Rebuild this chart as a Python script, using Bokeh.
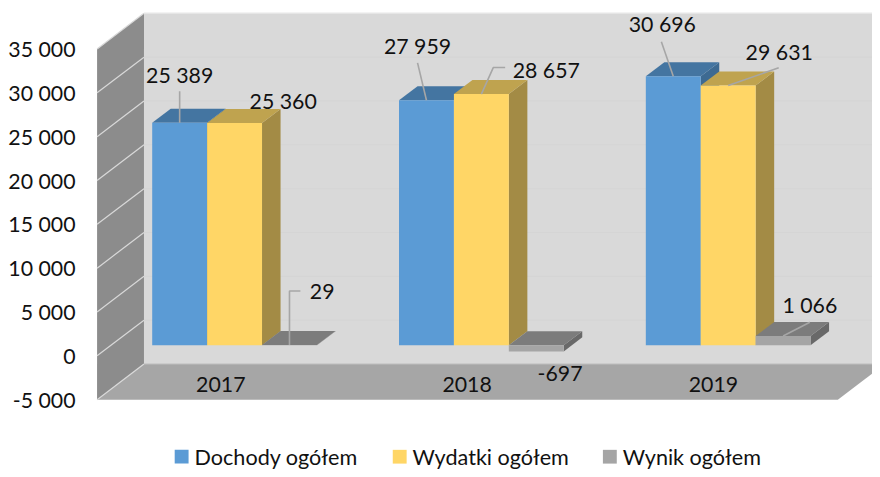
from bokeh.plotting import figure
from bokeh.models import FixedTicker
from bokeh.core.properties import value
from bokeh.embed import file_html
from bokeh.resources import INLINE

categories = ["2017", "2018", "2019"]
dochody = [25389, 27959, 30696]
wydatki = [25360, 28657, 29631]
wynik = [29, -697, 1066]
value_labels = [["25 389", "27 959", "30 696"],
                ["25 360", "28 657", "29 631"],
                ["29", "-697", "1 066"]]
series_names = ["Dochody ogółem", "Wydatki ogółem", "Wynik ogółem"]
tick_values = [-5000, 0, 5000, 10000, 15000, 20000, 25000, 30000, 35000]
tick_labels = ["-5 000", "0", "5 000", "10 000", "15 000", "20 000", "25 000", "30 000", "35 000"]

# The page has an 8px margin, so the figure covers the window minus that margin.
W, H = 872, 469
REF_W, REF_H = 880, 477
REF_L = 85
FRAME_L = 84
ZERO_PX = 361.4
PX_PER_5000 = 44.58
FONT = "Lato"
FS = "21.3px"
LEG_FS = "21.6px"


def u(px):
    return px * 5000 / PX_PER_5000


def Y(py):
    return u(ZERO_PX - py)


p = figure(width=W, height=H, x_range=(REF_L, REF_W), y_range=(Y(REF_H), Y(0)),
           output_backend="svg", toolbar_location=None,
           min_border_left=FRAME_L, min_border_right=0, min_border_top=0, min_border_bottom=0,
           x_axis_location=None, outline_line_color=None, background_fill_color="white")
p.xgrid.visible = False
p.ygrid.visible = False

ax = p.yaxis[0]
ax.ticker = FixedTicker(ticks=tick_values)
ax.major_label_overrides = {v: l for v, l in zip(tick_values, tick_labels)}
ax.axis_line_color = None
ax.major_tick_line_color = None
ax.minor_tick_line_color = None
ax.major_tick_out = 0
ax.major_tick_in = 0
ax.major_label_standoff = 9
ax.major_label_text_font = FONT
ax.major_label_text_font_size = FS
ax.major_label_text_color = "#111111"

# chamber
WALL_X0, WALL_DX, WALL_DY = 97.7, 47.3, 36.3
FLOOR_FRONT_R = 845
vmin, vmax = tick_values[0], tick_values[-1]
xb = WALL_X0 + WALL_DX
p.patch([xb, REF_W + 20, REF_W + 20, xb],
        [vmin + u(WALL_DY), vmin + u(WALL_DY), vmax + u(WALL_DY), vmax + u(WALL_DY)],
        fill_color="#d9d9d9", line_color=None)
p.patch([WALL_X0, xb, xb, WALL_X0],
        [vmin, vmin + u(WALL_DY), vmax + u(WALL_DY), vmax],
        fill_color="#8c8c8c", line_color=None)
p.patch([xb, FLOOR_FRONT_R + WALL_DX, FLOOR_FRONT_R, WALL_X0],
        [vmin + u(WALL_DY), vmin + u(WALL_DY), vmin, vmin],
        fill_color="#a6a6a6", line_color=None)
for t in tick_values:
    p.line([WALL_X0, xb], [t, t + u(WALL_DY)], line_color="#d9d9d9", line_width=1.2)
    if t > vmin:
        p.line([xb, REF_W], [t + u(WALL_DY)] * 2, line_color="#d5d5d5", line_width=1)
p.line([xb, REF_W], [vmin + u(WALL_DY)] * 2, line_color="#bdbdbd", line_width=1.2)
p.line([xb, REF_W], [vmax + u(WALL_DY)] * 2, line_color="#e6e6e6", line_width=1.2)

# bars
BAR_X0, PITCH, BAR_W = 153.3, 249.0, 55.4
BAR_DX, BAR_DY, PLANE_DY = 18.7, 14.3, 10.7
colors = [("#5b9bd5", "#4475a1", "#3d6a92"),
          ("#ffd666", "#bfa34f", "#a38b45"),
          ("#a5a5a5", "#7c7c7c", "#696969")]
series = [dochody, wydatki, wynik]

for i in range(len(categories)):
    for s, vals in enumerate(series):
        x0 = BAR_X0 + PITCH * i + BAR_W * s
        x1 = x0 + BAR_W
        v = vals[i]
        top = max(v, 0) + u(PLANE_DY)
        bot = min(v, 0) + u(PLANE_DY)
        front, topc, side = colors[s]
        p.patch([x1, x1 + BAR_DX, x1 + BAR_DX, x1],
                [bot, bot + u(BAR_DY), top + u(BAR_DY), top], fill_color=side, line_color=None)
        p.patch([x0, x1, x1 + BAR_DX, x0 + BAR_DX],
                [top, top, top + u(BAR_DY), top + u(BAR_DY)], fill_color=topc, line_color=None)
        p.patch([x0, x1, x1, x0], [bot, bot, top, top], fill_color=front, line_color=None)

# leader lines: pixel offsets from the anchor (bar front centre, bar value)
leaders = {(0, 0): [(0, -32)],
           (2, 0): [(0, -55), (11, -55)],
           (0, 1): [(-9, -38)],
           (1, 1): [(12, -27), (24, -27)],
           (0, 2): [(-12, -35)],
           (1, 2): [(51, -18)],
           (2, 2): [(27, -14)]}
# label centre: pixel offsets from the same anchor
label_off = {(0, 0): (0, -49), (1, 0): (49, -22), (2, 0): (33, -54),
             (0, 1): (-9, -55), (1, 1): (65.5, -25), (2, 1): (24, 29),
             (0, 2): (-11, -53), (1, 2): (51.5, -34), (2, 2): (27, -32)}

for s, vals in enumerate(series):
    for i in range(len(categories)):
        x0 = BAR_X0 + PITCH * i + BAR_W * s
        ax_ = x0 + BAR_W / 2
        ay_ = max(vals[i], 0) + u(PLANE_DY)
        if (s, i) in leaders:
            xs = [ax_] + [ax_ + d[0] for d in leaders[(s, i)]]
            ys = [ay_] + [ay_ - u(d[1]) for d in leaders[(s, i)]]
            p.line(xs, ys, line_color="#a6a6a6", line_width=1.6)
        dx, dy = label_off[(s, i)]
        p.text([ax_ + dx], [ay_ - u(dy)], text=[value_labels[s][i]], text_align="center",
               text_baseline="middle", text_font=value(FONT), text_font_size=FS,
               text_color="#111111")

# category labels on the floor
CAT_X0, CAT_PITCH, CAT_PY = 222.5, 248.5, 391
for i, c in enumerate(categories):
    p.text([CAT_X0 + CAT_PITCH * i], [Y(CAT_PY)], text=[c], text_align="center",
           text_baseline="middle", text_font=value(FONT), text_font_size=FS, text_color="#111111")

# legend
LEG_SQ_X = [176, 396, 608]
LEG_PY = 464
SQ = 14
for x, name, col in zip(LEG_SQ_X, series_names, colors):
    p.patch([x, x + SQ, x + SQ, x],
            [Y(LEG_PY + SQ / 2), Y(LEG_PY + SQ / 2), Y(LEG_PY - SQ / 2), Y(LEG_PY - SQ / 2)],
            fill_color=col[0], line_color=None)
    p.text([x + SQ + 6], [Y(LEG_PY)], text=[name], text_align="left", text_baseline="middle",
           text_font=value(FONT), text_font_size=LEG_FS, text_color="#111111")

open("out.html", "w").write(file_html(p, INLINE))
